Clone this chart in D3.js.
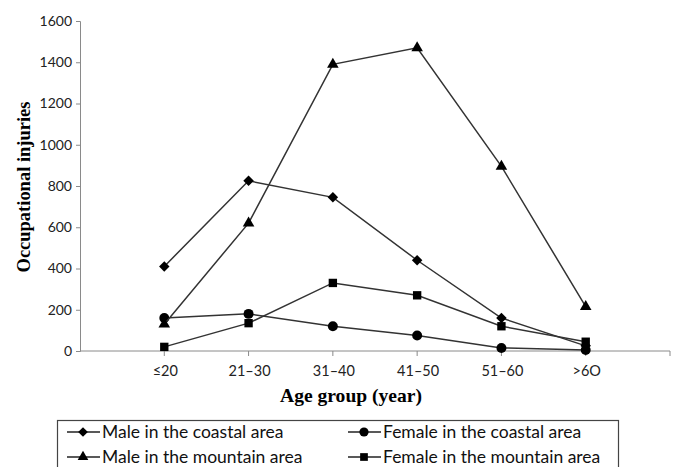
<!DOCTYPE html>
<html>
<head>
<meta charset="utf-8">
<script src="https://cdn.jsdelivr.net/npm/d3@7"></script>
<style>
body { margin: 0; background: #fff; }
</style>
</head>
<body>
<div id="chart"></div>
<script>
// data
var ageGroups = ["\u226420", "21\u201330", "31\u201340", "41\u201350", "51\u201360", ">6O"];
var maleCoastal = [410, 825, 745, 440, 160, 25];
var femaleCoastal = [160, 180, 120, 75, 15, 5];
var maleMountain = [130, 620, 1390, 1470, 895, 215];
var femaleMountain = [20, 135, 330, 270, 120, 45];
var yTicks = [0, 200, 400, 600, 800, 1000, 1200, 1400, 1600];

var diamond = {
  draw: function (ctx, size) {
    var r = Math.sqrt(size / 2);
    ctx.moveTo(0, -r); ctx.lineTo(r, 0); ctx.lineTo(0, r); ctx.lineTo(-r, 0); ctx.closePath();
  }
};

var series = [
  { name: "Male in the coastal area", values: maleCoastal, symbol: diamond, size: 55 },
  { name: "Female in the coastal area", values: femaleCoastal, symbol: d3.symbolCircle, size: 78 },
  { name: "Male in the mountain area", values: maleMountain, symbol: d3.symbolTriangle, size: 58 },
  { name: "Female in the mountain area", values: femaleMountain, symbol: d3.symbolSquare, size: 70 }
];

var W = 676, H = 467;
var svg = d3.select("#chart").append("svg").attr("width", W).attr("height", H);

var plotL = 80, plotR = 670, plotT = 21, plotB = 351;
var step = (plotR - plotL) / 7;

// category i sits on tick i+1 of 7 slots
var x = function (i) { return plotL + step * (i + 1); };
var y = d3.scaleLinear().domain([0, 1600]).range([plotB, plotT]);

var axisCol = "#8a8a8a";
var tickFont = "Lato, 'Open Sans', sans-serif";
var titleFont = "'Liberation Serif', 'Times New Roman', serif";

// y axis
var yAxis = d3.axisLeft(y).tickValues(yTicks).tickSize(4).tickPadding(4).tickFormat(d3.format("d"));
var gy = svg.append("g").attr("transform", "translate(" + plotL + ",0)").call(yAxis);
gy.select(".domain").attr("stroke", axisCol);
gy.selectAll(".tick line").attr("stroke", axisCol);
gy.selectAll("text").attr("font-family", tickFont).attr("font-size", 14).attr("fill", "#222");

// x axis
var gx = svg.append("g");
gx.append("line").attr("x1", plotL).attr("x2", plotR).attr("y1", plotB).attr("y2", plotB)
  .attr("stroke", axisCol);
d3.range(1, 8).forEach(function (k) {
  gx.append("line").attr("x1", plotL + step * k).attr("x2", plotL + step * k)
    .attr("y1", plotB).attr("y2", plotB + 5).attr("stroke", axisCol);
});
gx.selectAll("text.cat").data(ageGroups).enter().append("text")
  .attr("class", "cat")
  .attr("x", function (d, i) { return x(i) + 1; })
  .attr("y", plotB + 25)
  .attr("text-anchor", "middle")
  .attr("font-family", tickFont).attr("font-size", 14.5).attr("fill", "#222")
  .text(function (d) { return d; });

// axis titles
svg.append("text")
  .attr("transform", "translate(30,187) rotate(-90)")
  .attr("text-anchor", "middle")
  .attr("font-family", titleFont).attr("font-weight", "bold").attr("font-size", 19)
  .attr("textLength", 171).attr("lengthAdjust", "spacingAndGlyphs")
  .text("Occupational injuries");
svg.append("text")
  .attr("x", 351).attr("y", 402)
  .attr("text-anchor", "middle")
  .attr("font-family", titleFont).attr("font-weight", "bold").attr("font-size", 19)
  .attr("textLength", 142).attr("lengthAdjust", "spacingAndGlyphs")
  .text("Age  group (year)");

// lines and markers
var line = d3.line().x(function (d, i) { return x(i); }).y(function (d) { return y(d); });
series.forEach(function (s) {
  svg.append("path").datum(s.values).attr("d", line)
    .attr("fill", "none").attr("stroke", "#333").attr("stroke-width", 1.5);
  svg.selectAll(null).data(s.values).enter().append("path")
    .attr("d", d3.symbol().type(s.symbol).size(s.size))
    .attr("transform", function (d, i) { return "translate(" + x(i) + "," + y(d) + ")"; })
    .attr("fill", "#000");
});

// legend
var lg = svg.append("g");
lg.append("rect").attr("x", 57.5).attr("y", 420.5).attr("width", 561).attr("height", 60)
  .attr("fill", "#fff").attr("stroke", "#444").attr("stroke-width", 1.2);
var legendPos = [[67, 432], [348, 432], [67, 457], [348, 457]];
series.forEach(function (s, i) {
  var p = legendPos[i];
  var g = lg.append("g").attr("transform", "translate(" + p[0] + "," + p[1] + ")");
  g.append("line").attr("x1", 0).attr("x2", 33).attr("y1", 0).attr("y2", 0)
    .attr("stroke", "#222").attr("stroke-width", 1.5);
  g.append("path").attr("d", d3.symbol().type(s.symbol).size(s.size * 0.85))
    .attr("transform", "translate(16,0)").attr("fill", "#000");
  g.append("text").attr("x", 35).attr("y", 6)
    .attr("font-family", tickFont).attr("font-size", 17.5).attr("fill", "#111")
    .text(s.name);
});
</script>
</body>
</html>
